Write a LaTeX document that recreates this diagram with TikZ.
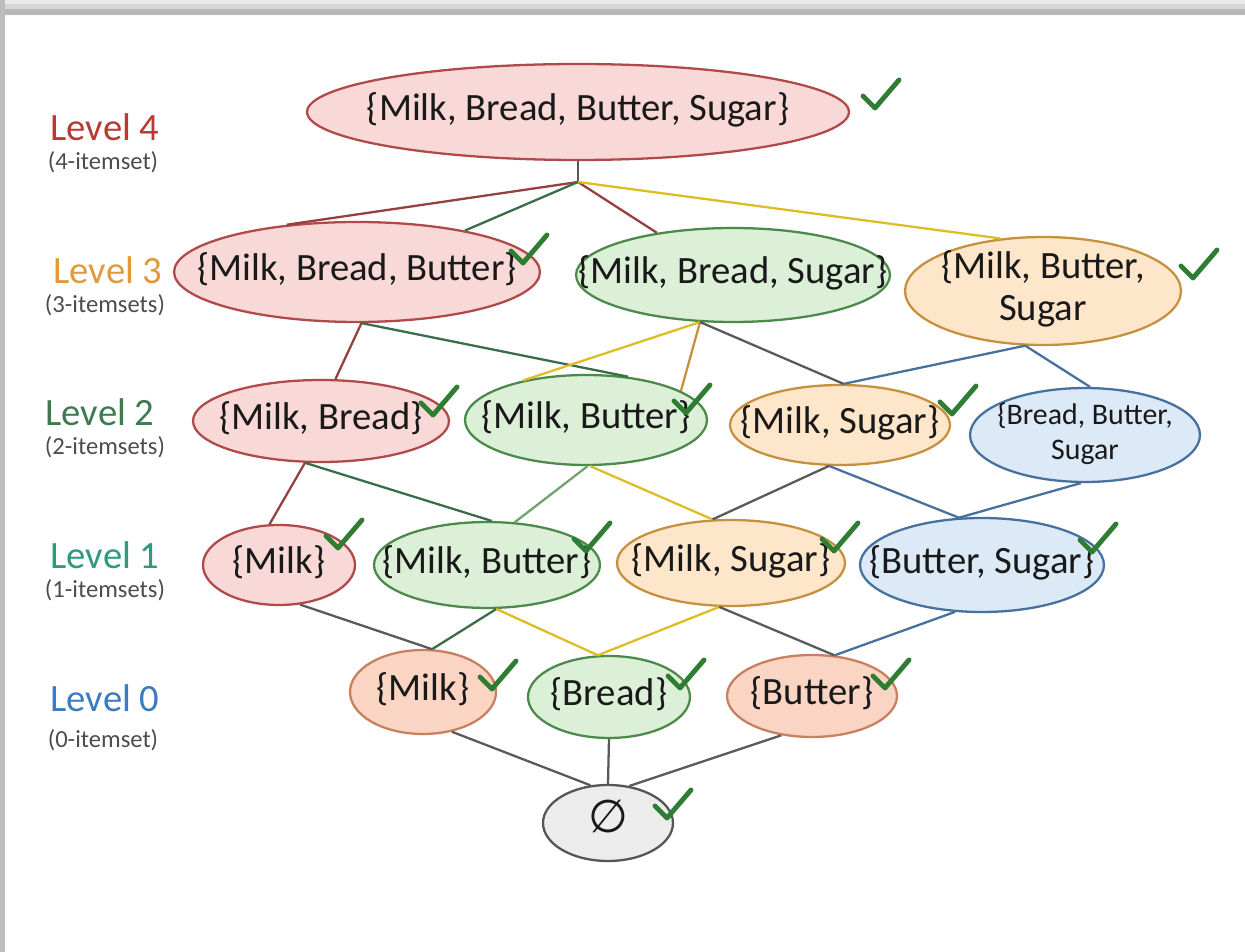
\documentclass[tikz,border=0pt]{standalone}
\usepackage{fontspec}
\setmainfont{Carlito}
\newfontfamily\djv{DejaVu Sans}
\usepackage{tikz}
\usetikzlibrary{shapes.geometric}

\definecolor{redfill}{HTML}{F9D9D8}  \definecolor{reddraw}{HTML}{B04A4A}
\definecolor{grnfill}{HTML}{DCF0D8}  \definecolor{grndraw}{HTML}{4C8A4C}
\definecolor{orgfill}{HTML}{FDE6C9}  \definecolor{orgdraw}{HTML}{C7903E}
\definecolor{blufill}{HTML}{DCE9F7}  \definecolor{bludraw}{HTML}{46709E}
\definecolor{salfill}{HTML}{FAD5C4}  \definecolor{saldraw}{HTML}{C98060}
\definecolor{gryfill}{HTML}{ECECEC}  \definecolor{grydraw}{HTML}{555555}
\definecolor{okgreen}{HTML}{2E7D32}
\definecolor{lvfour}{HTML}{B83A33}
\definecolor{lvthree}{HTML}{E09A3A}
\definecolor{lvtwo}{HTML}{3D7A50}
\definecolor{lvone}{HTML}{2F9A7E}
\definecolor{lvzero}{HTML}{3B7BBF}

% text of a set, centred, not widening the ellipse
\newcommand{\intxt}[1]{\vbox to 0pt{\vss\hbox to 0pt{\hss\begin{tabular}{@{}c@{}}#1\end{tabular}\hss}\vss}}
\newcommand{\okat}[1]{\draw[okmark] #1 ++(-12,-12) -- ++(12,12) -- ++(24,-28);}

\begin{document}
\begin{tikzpicture}[
      x=0.02cm, y=-0.02cm,
      set/.style = {
        ellipse, inner sep=0pt, line width=1.3pt,
        font=\fontsize{22}{24}\selectfont, text=black!90
      },
      redset/.style = {set, fill=redfill, draw=reddraw},
      grnset/.style = {set, fill=grnfill, draw=grndraw},
      orgset/.style = {set, fill=orgfill, draw=orgdraw},
      bluset/.style = {set, fill=blufill, draw=bludraw},
      salset/.style = {set, fill=salfill, draw=saldraw},
      gryset/.style = {set, fill=gryfill, draw=grydraw},
      edge/.style   = {line width=1.3pt},
      ered/.style   = {edge, draw=reddraw!85!black},
      egrn/.style   = {edge, draw=lvtwo!90!black},
      elgrn/.style  = {edge, draw=grndraw!80},
      eyel/.style   = {edge, draw=orgdraw!60!yellow},
      eorg/.style   = {edge, draw=orgdraw},
      eblu/.style   = {edge, draw=bludraw},
      edark/.style  = {edge, draw=black!65},
      okmark/.style = {draw=okgreen, line width=2.8pt, line cap=round, line join=round},
      lvl/.style    = {font=\fontsize{22}{24}\selectfont},
      lvsub/.style  = {font=\fontsize{14}{16}\selectfont, text=black!70}
    ]

      \useasboundingbox (0,0) rectangle (1245,952);

      % frame
      \fill[black!8]  (0,0) rectangle (1245,4);
      \fill[black!16] (0,4) rectangle (1245,9);
      \fill[black!28] (0,9) rectangle (1245,15);
      \fill[black!26] (0,0) rectangle (5,952);

      % ===================== Level labels =====================
      \node[lvl, text=lvfour]  (lv4)  at (105,127) {Level 4};
      \node[lvsub]             (lv4s) at (103,162) {(4-itemset)};
      \node[lvl, text=lvthree] (lv3)  at (108,270) {Level 3};
      \node[lvsub]             (lv3s) at (105,305) {(3-itemsets)};
      \node[lvl, text=lvtwo]   (lv2)  at (100,412) {Level 2};
      \node[lvsub]             (lv2s) at (105,447) {(2-itemsets)};
      \node[lvl, text=lvone]   (lv1)  at (105,555) {Level 1};
      \node[lvsub]             (lv1s) at (105,590) {(1-itemsets)};
      \node[lvl, text=lvzero]  (lv0)  at (105,698) {Level 0};
      \node[lvsub]             (lv0s) at (103,740) {(0-itemset)};

      % ===================== Sets =====================
      \node[redset, minimum width=10.84cm, minimum height=1.92cm] (L4)  at (578,112) {\intxt{\{Milk, Bread, Butter, Sugar\}}};

      \node[redset, minimum width=7.32cm, minimum height=2.0cm]   (L3a) at (357,272) {\intxt{\{Milk, Bread, Butter\}}};
      \node[grnset, minimum width=6.28cm, minimum height=1.88cm]  (L3b) at (733,275) {\intxt{\{Milk, Bread, Sugar\}}};
      \node[orgset, minimum width=5.52cm, minimum height=2.16cm]  (L3c) at (1043,291) {\intxt{\{Milk, Butter,\\ Sugar}};

      \node[redset, minimum width=5.12cm, minimum height=1.64cm]  (L2a) at (321,421) {\intxt{\{Milk, Bread\}}};
      \node[grnset, minimum width=4.84cm, minimum height=1.8cm]   (L2b) at (586,420) {\intxt{\{Milk, Butter\}}};
      \node[orgset, minimum width=4.4cm, minimum height=1.6cm]    (L2c) at (840,425) {\intxt{\{Milk, Sugar\}}};
      \node[bluset, minimum width=4.6cm, minimum height=1.88cm, font=\fontsize{17}{20}\selectfont] (L2d) at (1085,435) {\intxt{\{Bread, Butter,\\ Sugar}};

      \node[redset, minimum width=3.04cm, minimum height=1.6cm]   (L1a) at (279,565) {\intxt{\{Milk\}}};
      \node[grnset, minimum width=4.52cm, minimum height=1.72cm]  (L1b) at (487,565) {\intxt{\{Milk, Butter\}}};
      \node[orgset, minimum width=4.56cm, minimum height=1.72cm]  (L1c) at (731,563) {\intxt{\{Milk, Sugar\}}};
      \node[bluset, minimum width=4.88cm, minimum height=1.88cm]  (L1d) at (982,565) {\intxt{\{Butter, Sugar\}}};

      \node[salset, minimum width=2.92cm, minimum height=1.68cm]  (L0a) at (423,692) {\intxt{\{Milk\}}};
      \node[grnset, minimum width=3.24cm, minimum height=1.64cm]  (L0b) at (609,697) {\intxt{\{Bread\}}};
      \node[salset, minimum width=3.4cm, minimum height=1.64cm]   (L0c) at (812,696) {\intxt{\{Butter\}}};

      \node[gryset, minimum width=2.6cm, minimum height=1.52cm, font=\fontsize{26}{28}\selectfont] (E) at (608,823) {\intxt{{\djv ∅}}};

      % ===================== Links =====================
      \coordinate (hub) at (578,182);
      \draw[edark] (L4.south) -- (hub);
      \draw[ered] (hub) -- (L3a.146);
      \draw[egrn] (hub) -- (L3a.21);
      \draw[ered] (hub) -- (L3b.151);
      \draw[eyel] (hub) -- (L3c.129);

      \draw[ered]  (L3a.-85)  -- (L2a.71);
      \draw[egrn]  (L3a.-85)  -- (L2b.46);
      \draw[eyel]  (L3b.-125) -- (L2b.148);
      \draw[eorg]  (L3b.-125) -- (L2b.17);
      \draw[edark] (L3b.-125) -- (L2c.85);
      \draw[eblu]  (L3c.-108) -- (L2c.85);
      \draw[eblu]  (L3c.-108) -- (L2d.84);

      \draw[ered]  (L2a.-111) -- (L1a.103);
      \draw[egrn]  (L2a.-111) -- (L1b.84);
      \draw[elgrn] (L2b.-88)  -- (L1b.57);
      \draw[eyel]  (L2b.-85)  -- (L1c.113);
      \draw[edark] (L2c.-105) -- (L1c.113);
      \draw[eblu]  (L2c.-105) -- (L1d.116);
      \draw[eblu]  (L2d.-95)  -- (L1d.116);

      \draw[edark] (L1a.-62)  -- (L0a.78);
      \draw[egrn]  (L1b.-78)  -- (L0a.78);
      \draw[eyel]  (L1b.-78)  -- (L0b.105);
      \draw[eyel]  (L1c.-105) -- (L0b.105);
      \draw[edark] (L1c.-105) -- (L0c.61);
      \draw[eblu]  (L1d.-120) -- (L0c.61);

      \draw[edark] (L0a.-54)   -- (E.115);
      \draw[edark] (L0b.south) -- (E.north);
      \draw[edark] (L0c.-128)  -- (E.60);

      % ===================== Checks =====================
      \okat{(875,108)}
      \okat{(523,263)}
      \okat{(1193,278)}
      \okat{(433,415)}
      \okat{(686,413)}
      \okat{(952,414)}
      \okat{(338,548)}
      \okat{(586,551)}
      \okat{(834,551)}
      \okat{(1092,552)}
      \okat{(492,689)}
      \okat{(680,688)}
      \okat{(885,688)}
      \okat{(667,818)}

    \end{tikzpicture}
\end{document}
